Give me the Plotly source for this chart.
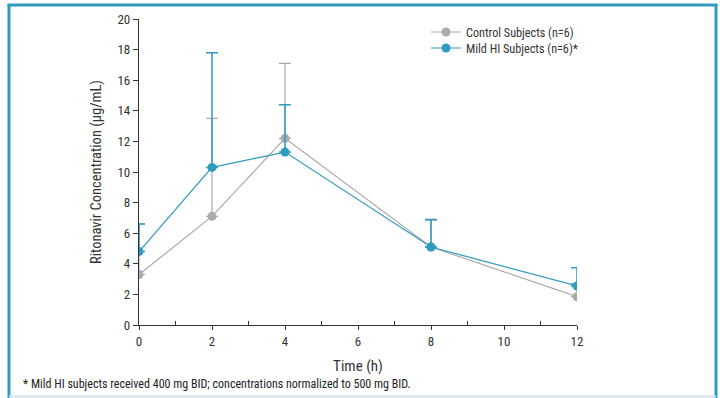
import plotly.graph_objects as go

time_h = [0, 2, 4, 8, 12]
control_mean = [3.3, 7.1, 12.2, 5.1, 1.85]
control_sd = [3.3, 6.4, 4.9, 1.75, 0.85]
mild_mean = [4.8, 10.3, 11.3, 5.1, 2.55]
mild_sd = [1.8, 7.5, 3.1, 1.8, 1.2]

GREY = "#ABABAE"
TEAL = "#2E9BBF"
FONT = "Liberation Sans Narrow, Roboto Condensed, Roboto, Arial"

fig = go.Figure()
fig.add_trace(go.Scatter(
    x=time_h, y=control_mean, mode="lines+markers", name="Control Subjects (n=6)",
    line=dict(color=GREY, width=1.2), marker=dict(color=GREY, size=9), legend="legend",
    error_y=dict(type="data", symmetric=False, array=control_sd,
                 arrayminus=[0]*len(control_sd), color=GREY, thickness=1.2, width=6),
))
fig.add_trace(go.Scatter(
    x=time_h, y=mild_mean, mode="lines+markers", name="Mild HI Subjects (n=6)*",
    line=dict(color=TEAL, width=1.2), marker=dict(color=TEAL, size=9), legend="legend2",
    error_y=dict(type="data", symmetric=False, array=mild_sd,
                 arrayminus=[0]*len(mild_sd), color=TEAL, thickness=1.5, width=6),
))

L, R, T, B = 139, 143, 19, 73
W, H = 720, 398
pw, ph = W - L - R, H - T - B

def px(x):
    return (x - L) / pw

def py(y):
    return (H - B - y) / ph

shapes = [
    dict(type="line", xref="paper", yref="paper", x0=px(9), x1=px(9), y0=py(4), y1=py(398),
         line=dict(color=TEAL, width=3)),
    dict(type="line", xref="paper", yref="paper", x0=px(7.5), x1=px(717.5), y0=py(5), y1=py(5),
         line=dict(color=TEAL, width=3)),
    dict(type="line", xref="paper", yref="paper", x0=px(716), x1=px(716), y0=py(4), y1=py(398),
         line=dict(color=TEAL, width=3)),
    dict(type="line", xref="paper", yref="paper", x0=px(9), x1=px(716), y0=py(396.5), y1=py(396.5),
         line=dict(color="#CFE3EC", width=2)),
]

leg_common = dict(xanchor="left", yanchor="middle", font=dict(size=12.2, color="#333333"),
                  bgcolor="rgba(0,0,0,0)", itemwidth=30)

fig.update_layout(
    width=W, height=H, margin=dict(l=L, r=R, t=T, b=B),
    plot_bgcolor="white", paper_bgcolor="white",
    font=dict(family=FONT, size=13, color="#333333"),
    showlegend=True,
    legend=dict(x=px(426), y=py(32), **leg_common),
    legend2=dict(x=px(426), y=py(48), **leg_common),
    shapes=shapes,
    annotations=[dict(text="* Mild HI subjects received 400 mg BID; concentrations normalized to 500 mg BID.",
                      xref="paper", yref="paper", x=px(21), y=py(384), xanchor="left", yanchor="middle",
                      showarrow=False, font=dict(size=12, color="#222222"))],
    xaxis=dict(range=[0, 12], tickvals=[0, 2, 4, 6, 8, 10, 12], showgrid=False, zeroline=False,
               showline=True, linecolor="#333333", linewidth=1.3, ticks="outside", ticklen=4,
               tickcolor="#333333", tickfont=dict(size=13),
               minor=dict(tickvals=[1, 3, 5, 7, 9, 11], ticks="inside", ticklen=4, tickcolor="#333333"),
               title=dict(text="Time (h)", font=dict(size=15), standoff=12)),
    yaxis=dict(range=[0, 20], tickvals=list(range(0, 21, 2)), showgrid=False, zeroline=False,
               showline=True, linecolor="#333333", linewidth=1.3, ticks="outside", ticklen=5,
               tickcolor="#333333", tickfont=dict(size=13),
               title=dict(text="Ritonavir Concentration (µg/mL)", font=dict(size=14.5), standoff=12)),
)

fig.write_html("out.html", config={"displayModeBar": False},
               post_script="document.body.style.margin='0';")
